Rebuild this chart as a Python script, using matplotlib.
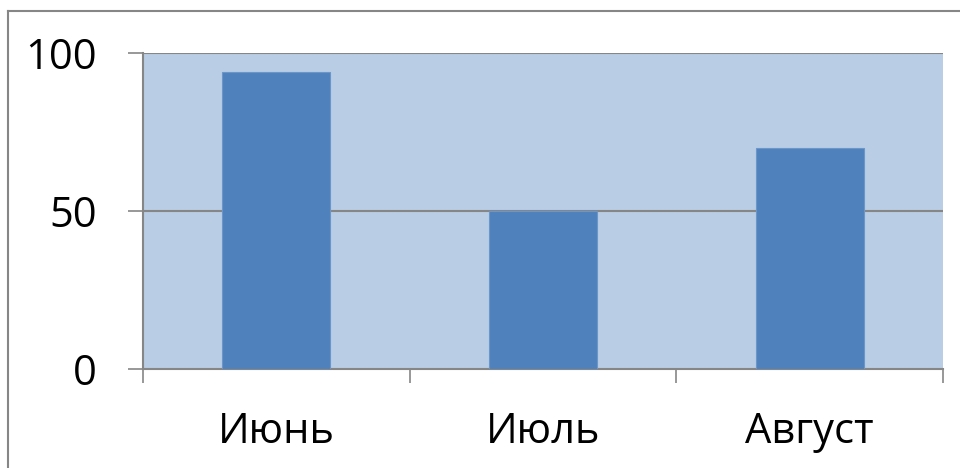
import matplotlib
matplotlib.use("Agg")
import matplotlib.pyplot as plt
from matplotlib.lines import Line2D

months = ["Июнь", "Июль", "Август"]
values = [94, 50, 70]
y_ticks = [0, 50, 100]

plt.rcParams["font.family"] = ["Open Sans", "DejaVu Sans"]

W, H = 960, 468
fig = plt.figure(figsize=(W / 100, H / 100), dpi=100)
fig.patch.set_facecolor("white")

left, right, top, bottom = 143, 943, 53, 369
ax = fig.add_axes([left / W, 1 - bottom / H, (right - left) / W, (bottom - top) / H])
ax.set_facecolor("#B9CDE5")

grid_col = "#868686"
x = list(range(len(months)))
ax.bar(x, values, width=0.405, color="#4F81BD", edgecolor="#6C95C8",
       linewidth=0.8, zorder=3)

ax.set_xlim(-0.5, len(months) - 0.5)
ax.set_ylim(0, 100)

ax.set_yticks(y_ticks)
ax.set_yticklabels([str(v) for v in y_ticks], fontsize=30)
ax.tick_params(axis="y", length=11, width=1.2, color=grid_col, pad=22)
for v in y_ticks[1:]:
    ax.axhline(v, color=grid_col, linewidth=1.5, zorder=2)

ax.set_xticks(x)
ax.set_xticklabels(months, fontsize=30)
ax.tick_params(axis="x", which="major", length=0, pad=30)
ax.set_xticks([i - 0.5 for i in range(len(months) + 1)], minor=True)
ax.tick_params(axis="x", which="minor", length=10, width=1.2, color=grid_col)

for side in ("top", "right"):
    ax.spines[side].set_visible(False)
for side in ("left", "bottom"):
    ax.spines[side].set_color(grid_col)
    ax.spines[side].set_linewidth(1.5)

# chart frame
fig.add_artist(Line2D([8 / W, 8 / W], [0, 1 - 11 / H], transform=fig.transFigure,
                      color=grid_col, linewidth=1.5))
fig.add_artist(Line2D([8 / W, 1], [1 - 11 / H, 1 - 11 / H], transform=fig.transFigure,
                      color=grid_col, linewidth=1.5))

fig.savefig("out.png", dpi=100)
